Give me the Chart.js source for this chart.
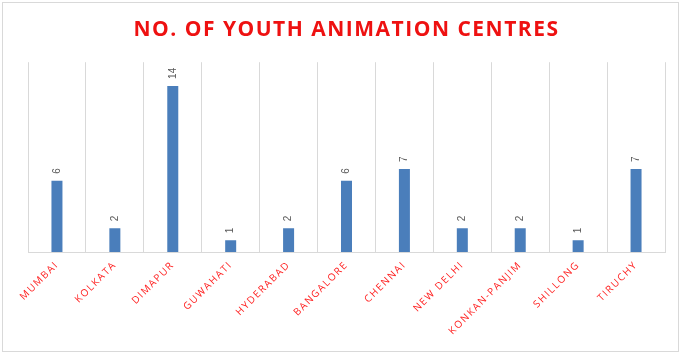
<!DOCTYPE html>
<html>
<head>
<meta charset="utf-8">
<script src="https://cdn.jsdelivr.net/npm/chart.js@4.4.1/dist/chart.umd.min.js"></script>
<style>
  html, body { margin: 0; padding: 0; background: #fff; }
  #wrap { position: relative; width: 684px; height: 356px; }
  #frame { position: absolute; left: 2px; top: 2px; width: 677px; height: 350px; border: 1px solid #d9d9d9; box-sizing: border-box; pointer-events: none; }
  canvas { position: absolute; left: 0; top: 0; }
</style>
</head>
<body>
<div id="wrap">
  <canvas id="c" width="684" height="356"></canvas>
  <div id="frame"></div>
</div>
<script>
const categories = ["MUMBAI", "KOLKATA", "DIMAPUR", "GUWAHATI", "HYDERABAD", "BANGALORE", "CHENNAI", "NEW DELHI", "KONKAN-PANJIM", "SHILLONG", "TIRUCHY"];
const centres = [6, 2, 14, 1, 2, 6, 7, 2, 2, 1, 7];
const chartTitle = "NO. OF YOUTH ANIMATION CENTRES";

const spacingPlugin = {
  id: 'spacing',
  beforeInit(chart) { chart.ctx.letterSpacing = '1.5px'; },
  beforeDraw(chart) { chart.ctx.letterSpacing = '1.5px'; }
};

const valueLabels = {
  id: 'valueLabels',
  afterDatasetsDraw(chart) {
    const ctx = chart.ctx;
    const meta = chart.getDatasetMeta(0);
    ctx.save();
    ctx.letterSpacing = '0px';
    ctx.font = '10px "Liberation Sans", Arial, sans-serif';
    ctx.fillStyle = '#595959';
    ctx.textAlign = 'left';
    ctx.textBaseline = 'middle';
    meta.data.forEach((bar, i) => {
      ctx.save();
      ctx.translate(bar.x, bar.y - 7);
      ctx.rotate(-Math.PI / 2);
      ctx.fillText(String(centres[i]), 0, 0);
      ctx.restore();
    });
    ctx.restore();
  }
};

new Chart(document.getElementById('c'), {
  type: 'bar',
  data: {
    labels: categories,
    datasets: [{
      data: centres,
      backgroundColor: '#4a7ebb',
      borderWidth: 0,
      barPercentage: 0.19,
      categoryPercentage: 1
    }]
  },
  options: {
    responsive: false,
    animation: false,
    devicePixelRatio: 1,
    layout: { padding: { left: 28, right: 19, top: 0, bottom: 0 } },
    plugins: {
      legend: { display: false },
      tooltip: { enabled: false },
      title: {
        display: true,
        text: chartTitle,
        color: '#ee1111',
        font: { family: '"Open Sans", sans-serif', size: 21, weight: 'bold', lineHeight: 1.2 },
        padding: { top: 17, bottom: 20 }
      }
    },
    scales: {
      x: {
        offset: true,
        grid: { offset: true, color: '#d9d9d9', drawTicks: false, lineWidth: 1 },
        border: { display: true, color: '#d9d9d9' },
        ticks: {
          color: '#ff2020',
          font: { family: '"Open Sans", sans-serif', size: 10 },
          minRotation: 45,
          maxRotation: 45,
          padding: 7,
          autoSkip: false
        },
        afterFit(scale) { scale.height = 104; }
      },
      y: {
        display: false,
        min: 0,
        max: 16
      }
    }
  },
  plugins: [spacingPlugin, valueLabels]
});
</script>
</body>
</html>
